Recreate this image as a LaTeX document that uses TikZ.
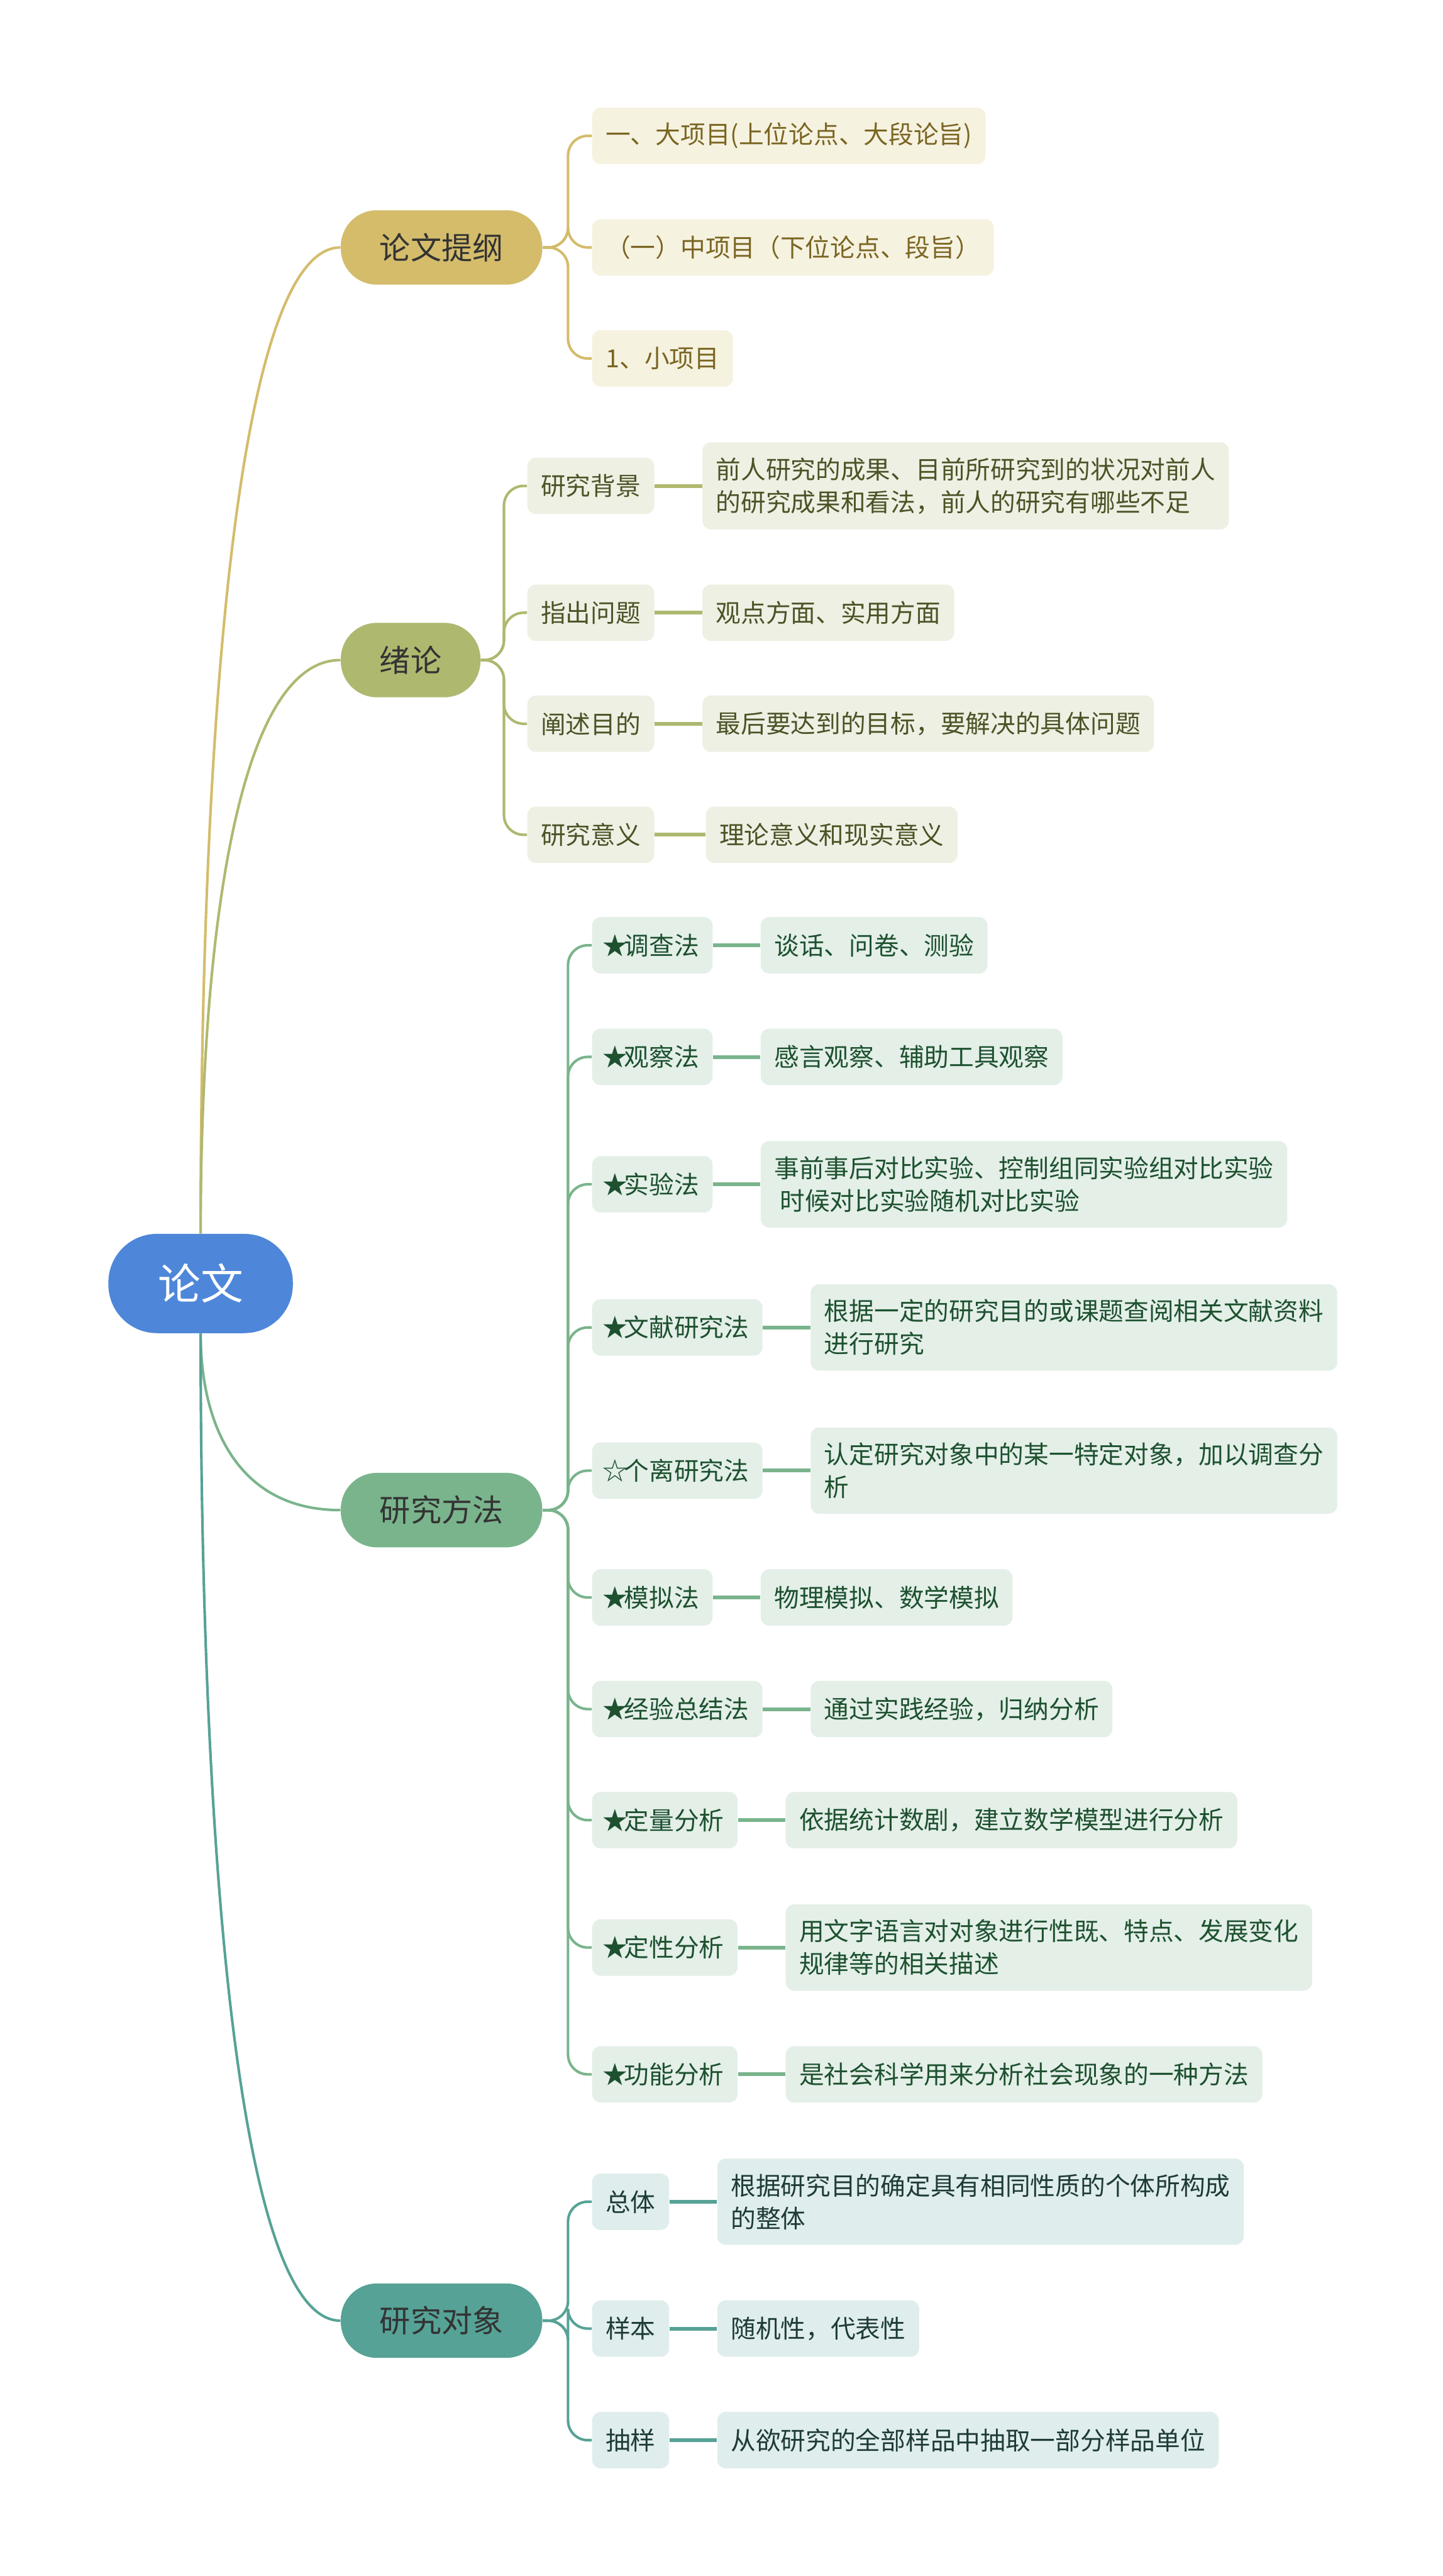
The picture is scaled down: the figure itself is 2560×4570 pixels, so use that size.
\documentclass[tikz,border=0pt]{standalone}
\usepackage{fontspec}
\newfontfamily\cjk{Noto Sans CJK SC}
\usepackage{xcolor}
\usetikzlibrary{positioning, calc}
\definecolor{rootblue}{HTML}{4E87D9}
\definecolor{goldmain}{HTML}{D4BC6B}
\definecolor{goldpale}{HTML}{F6F2E0}
\definecolor{goldtext}{HTML}{7A6522}
\definecolor{olivemain}{HTML}{AFB86F}
\definecolor{olivepale}{HTML}{EFF0E4}
\definecolor{olivetext}{HTML}{4C5326}
\definecolor{greenmain}{HTML}{7AB48C}
\definecolor{greenpale}{HTML}{E4EFE8}
\definecolor{greentext}{HTML}{1D512F}
\definecolor{tealmain}{HTML}{56A296}
\definecolor{tealpale}{HTML}{DFEEEC}
\definecolor{tealtext}{HTML}{1E3B38}
\definecolor{darktext}{HTML}{333333}
\newcommand{\fullstar}{\makebox[0.74em]{★}}
\newcommand{\openstar}{\makebox[0.74em]{☆}}

\begin{document}
\begin{tikzpicture}[
  x=0.01cm, y=-0.01cm,
  rootnode/.style={rectangle, rounded corners=0.86cm, fill=rootblue, text=white,
                   font=\cjk\fontsize{21.5pt}{26pt}\selectfont,
                   minimum height=1.76cm, inner xsep=0.88cm},
  topic/.style={rectangle, rounded corners=0.64cm, fill=#1, text=darktext,
                font=\cjk\fontsize{15.6pt}{19pt}\selectfont,
                minimum height=1.32cm, inner xsep=0.69cm, anchor=west},
  itemnode/.style={rectangle, rounded corners=0.15cm, align=left,
                   font=\cjk\fontsize{12.6pt}{16.5pt}\selectfont,
                   minimum height=1cm, inner xsep=0.24cm, inner ysep=0.27cm},
  goldleaf/.style={itemnode, fill=goldpale, text=goldtext},
  oliveleaf/.style={itemnode, fill=olivepale, text=olivetext},
  greenleaf/.style={itemnode, fill=greenpale, text=greentext},
  tealleaf/.style={itemnode, fill=tealpale, text=tealtext},
  rootlink/.style={line width=1.3pt},
  branchlink/.style={line width=1.3pt, rounded corners=0.35cm},
  leaflink/.style={line width=1.9pt},
  node distance=0.84cm
]
\fill[white] (0,0) rectangle (2560,4570);
\useasboundingbox (0,0) rectangle (2560,4570);

% Root and main topics
\node[rootnode] (paper) at (356, 2277) {论文};
\node[topic=goldmain] (outline) at (604, 439) {论文提纲};
\node[topic=olivemain] (intro) at (604, 1171) {绪论};
\node[topic=greenmain] (method) at (604, 2679) {研究方法};
\node[topic=tealmain] (object) at (604, 4117) {研究对象};

\foreach \t/\c/\a in {outline/goldmain/north, intro/olivemain/north,
                      method/greenmain/south, object/tealmain/south} {
  \coordinate (\t-k) at (paper.\a |- \t.west);
  \draw[rootlink, \c] (paper.\a) .. controls ($(paper.\a)!0.5!(\t-k)$)
    and ($(\t.west)!0.75!(\t-k)$) .. (\t.west);
}

% 论文提纲
\node[goldleaf, anchor=west] (o1) at (1050, 241) {一、大项目(上位论点、大段论旨)};
\node[goldleaf, anchor=west] (o2) at (1050, 439) {（一）中项目（下位论点、段旨）};
\node[goldleaf, anchor=west] (o3) at (1050, 636) {1、小项目};
\coordinate[right=0.45cm of outline] (outline-j);
\foreach \c in {o1,o2,o3}
  \draw[branchlink, goldmain] (outline.east) -- (outline-j) |- (\c.west);

% 绪论
\node[oliveleaf, anchor=west] (i1) at (935, 862) {研究背景};
\node[oliveleaf, anchor=west] (i2) at (935, 1087) {指出问题};
\node[oliveleaf, anchor=west] (i3) at (935, 1284) {阐述目的};
\node[oliveleaf, anchor=west] (i4) at (935, 1481) {研究意义};
\node[oliveleaf, right=of i1] (i1-d) {前人研究的成果、目前所研究到的状况对前人\\的研究成果和看法，前人的研究有哪些不足};
\node[oliveleaf, right=of i2] (i2-d) {观点方面、实用方面};
\node[oliveleaf, right=of i3] (i3-d) {最后要达到的目标，要解决的具体问题};
\node[oliveleaf, right=0.9cm of i4] (i4-d) {理论意义和现实意义};
\coordinate[right=0.41cm of intro] (intro-j);
\foreach \i in {1,...,4} {
  \draw[branchlink, olivemain] (intro.east) -- (intro-j) |- (i\i.west);
  \draw[leaflink, olivemain] (i\i.east) -- (i\i-d.west);
}

% 研究方法
\node[greenleaf, anchor=west] (m1) at (1050, 1677) {\fullstar 调查法};
\node[greenleaf, anchor=west] (m2) at (1050, 1875) {\fullstar 观察法};
\node[greenleaf, anchor=west] (m3) at (1050, 2101) {\fullstar 实验法};
\node[greenleaf, anchor=west] (m4) at (1050, 2355) {\fullstar 文献研究法};
\node[greenleaf, anchor=west] (m5) at (1050, 2609) {\openstar 个离研究法};
\node[greenleaf, anchor=west] (m6) at (1050, 2834) {\fullstar 模拟法};
\node[greenleaf, anchor=west] (m7) at (1050, 3032) {\fullstar 经验总结法};
\node[greenleaf, anchor=west] (m8) at (1050, 3229) {\fullstar 定量分析};
\node[greenleaf, anchor=west] (m9) at (1050, 3455) {\fullstar 定性分析};
\node[greenleaf, anchor=west] (m10) at (1050, 3680) {\fullstar 功能分析};
\node[greenleaf, right=of m1] (m1-d) {谈话、问卷、测验};
\node[greenleaf, right=of m2] (m2-d) {感言观察、辅助工具观察};
\node[greenleaf, right=of m3] (m3-d) {事前事后对比实验、控制组同实验组对比实验\\\ 时候对比实验随机对比实验};
\node[greenleaf, right=of m4] (m4-d) {根据一定的研究目的或课题查阅相关文献资料\\进行研究};
\node[greenleaf, right=of m5] (m5-d) {认定研究对象中的某一特定对象，加以调查分\\析};
\node[greenleaf, right=of m6] (m6-d) {物理模拟、数学模拟};
\node[greenleaf, right=of m7] (m7-d) {通过实践经验，归纳分析};
\node[greenleaf, right=of m8] (m8-d) {依据统计数剧，建立数学模型进行分析};
\node[greenleaf, right=of m9] (m9-d) {用文字语言对对象进行性既、特点、发展变化\\规律等的相关描述};
\node[greenleaf, right=of m10] (m10-d) {是社会科学用来分析社会现象的一种方法};
\coordinate[right=0.45cm of method] (method-j);
\foreach \i in {1,...,10} {
  \draw[branchlink, greenmain] (method.east) -- (method-j) |- (m\i.west);
  \draw[leaflink, greenmain] (m\i.east) -- (m\i-d.west);
}

% 研究对象
\node[tealleaf, anchor=west] (s1) at (1050, 3906) {总体};
\node[tealleaf, anchor=west] (s2) at (1050, 4131) {样本};
\node[tealleaf, anchor=west] (s3) at (1050, 4329) {抽样};
\node[tealleaf, right=of s1] (s1-d) {根据研究目的确定具有相同性质的个体所构成\\的整体};
\node[tealleaf, right=of s2] (s2-d) {随机性，代表性};
\node[tealleaf, right=of s3] (s3-d) {从欲研究的全部样品中抽取一部分样品单位};
\coordinate[right=0.45cm of object] (object-j);
\foreach \i in {1,2,3} {
  \draw[branchlink, tealmain] (object.east) -- (object-j) |- (s\i.west);
  \draw[leaflink, tealmain] (s\i.east) -- (s\i-d.west);
}

\end{tikzpicture}
\end{document}
